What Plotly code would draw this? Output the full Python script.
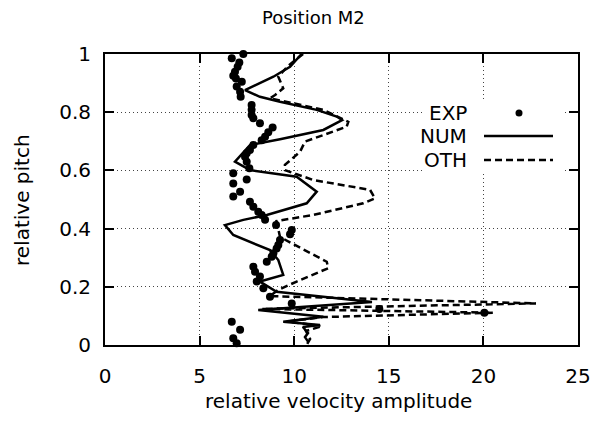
import plotly.graph_objects as go

# ---------------- data ----------------
EXP_X = [7.31, 6.70, 7.10, 7.01, 6.87, 6.78, 6.92, 7.23, 6.96, 7.14, 7.17, 7.75, 7.75, 7.75, 7.84,
         8.19, 8.86, 8.63, 8.46, 8.28, 7.84, 7.66, 7.49, 7.40, 7.49, 7.63, 6.78, 7.49, 6.78, 7.14,
         6.78, 7.66, 7.84, 8.10, 8.28, 8.46, 9.04, 9.87, 9.78, 9.25, 9.16, 9.07, 8.90, 8.81, 8.55,
         7.84, 7.93, 8.19, 8.02, 8.37, 8.72, 9.87, 14.50, 20.05, 6.70, 7.14, 6.78, 6.96]
EXP_Y = [1.00, 0.985, 0.971, 0.956, 0.939, 0.925, 0.916, 0.905, 0.888, 0.870, 0.853, 0.825, 0.808, 0.790, 0.779,
         0.762, 0.747, 0.731, 0.716, 0.704, 0.687, 0.670, 0.659, 0.647, 0.630, 0.607, 0.590, 0.569, 0.555, 0.527,
         0.510, 0.492, 0.475, 0.458, 0.447, 0.430, 0.412, 0.395, 0.381, 0.361, 0.344, 0.332, 0.315, 0.303, 0.286,
         0.269, 0.252, 0.235, 0.218, 0.195, 0.166, 0.143, 0.124, 0.111, 0.080, 0.052, 0.023, 0.006]

NUM_X = [10.39, 9.78, 8.90, 7.40, 8.19, 9.25, 11.19, 12.25, 12.53, 11.54, 9.25, 8.19, 7.66, 6.87, 7.66,
         10.13, 11.19, 10.66, 8.55, 7.31, 6.34, 6.78, 8.72, 9.16, 9.42, 8.19, 9.07, 14.11, 8.10, 11.54,
         9.42, 11.36, 10.46, 10.73, 10.57, 10.75]
NUM_Y = [1.0, 0.956, 0.922, 0.876, 0.853, 0.836, 0.808, 0.785, 0.773, 0.739, 0.707, 0.694, 0.687, 0.630, 0.601,
         0.578, 0.527, 0.487, 0.447, 0.430, 0.412, 0.378, 0.326, 0.292, 0.241, 0.218, 0.183, 0.148, 0.120, 0.097,
         0.080, 0.069, 0.062, 0.041, 0.027, 0.010]

OTH_X = [10.47, 9.67, 9.16, 9.42, 8.99, 8.72, 11.54, 12.86, 12.77, 11.54, 10.57, 10.31, 9.51, 9.51, 11.01,
         14.01, 14.27, 13.65, 11.01, 9.07, 9.25, 11.72, 11.80, 10.13, 9.14, 8.72, 22.78, 8.30, 20.51, 11.52,
         9.67, 11.47, 10.62, 10.84, 10.68]
OTH_Y = [1.0, 0.959, 0.922, 0.882, 0.859, 0.848, 0.808, 0.767, 0.750, 0.722, 0.699, 0.664, 0.619, 0.601, 0.567,
         0.533, 0.504, 0.487, 0.447, 0.426, 0.371, 0.286, 0.264, 0.218, 0.189, 0.168, 0.143, 0.124, 0.111, 0.096,
         0.081, 0.065, 0.048, 0.021, 0.003]

X_TICKS = [0, 5, 10, 15, 20, 25]
Y_TICKS = [0, 0.2, 0.4, 0.6, 0.8, 1]
Y_TICK_TEXT = ["0", "0.2", "0.4", "0.6", "0.8", "1"]
LEGEND_NAMES = ["EXP", "NUM", "OTH"]
TITLE = "Position M2"
XLABEL = "relative velocity amplitude"
YLABEL = "relative pitch"

FONT = "DejaVu Sans"

fig = go.Figure()
fig.add_trace(go.Scatter(x=EXP_X, y=EXP_Y, mode="markers", name="EXP",
                         marker=dict(color="black", size=8), showlegend=False, cliponaxis=False))
fig.add_trace(go.Scatter(x=NUM_X, y=NUM_Y, mode="lines", name="NUM",
                         line=dict(color="black", width=2.5), showlegend=False))
fig.add_trace(go.Scatter(x=OTH_X, y=OTH_Y, mode="lines", name="OTH",
                         line=dict(color="black", width=2.5, dash="7px,4px"), showlegend=False))

axis_common = dict(showline=True, linecolor="black", linewidth=2, mirror="ticks",
                   ticks="inside", ticklen=9, tickwidth=1.5, tickcolor="black",
                   showgrid=True, gridcolor="#444", gridwidth=1, griddash="1px,3px",
                   zeroline=False, automargin=False,
                   tickfont=dict(family=FONT, size=20, color="black"))

fig.update_xaxes(range=[0, 25], tickvals=X_TICKS, ticklabelstandoff=12, **axis_common)
fig.update_yaxes(range=[0, 1], tickvals=Y_TICKS, ticktext=Y_TICK_TEXT, ticklabelstandoff=8, **axis_common)

# manual legend (paper coordinates; plot area is 473 x 291 px)
W, H = 473.0, 291.0
def px(x):
    return (x - 105) / W
def py(y):
    return (345 - y) / H

shapes = [
    dict(type="rect", xref="paper", yref="paper", x0=px(423), x1=px(563), y0=py(172), y1=py(101),
         fillcolor="white", line=dict(width=0), layer="above"),
    dict(type="circle", xref="paper", yref="paper", x0=px(515.5), x1=px(522.5), y0=py(116.5), y1=py(109.5),
         fillcolor="black", line=dict(width=0), layer="above"),
    dict(type="line", xref="paper", yref="paper", x0=px(484), x1=px(553), y0=py(136), y1=py(136),
         line=dict(color="black", width=2.5), layer="above"),
    dict(type="line", xref="paper", yref="paper", x0=px(484), x1=px(553), y0=py(160), y1=py(160),
         line=dict(color="black", width=2.5, dash="7px,4px"), layer="above"),
]

annotations = []
for name, yy in zip(LEGEND_NAMES, [113, 136, 160]):
    annotations.append(dict(text=name, xref="paper", yref="paper", x=px(469), y=py(yy),
                            xanchor="right", yanchor="middle", showarrow=False,
                            font=dict(family=FONT, size=20, color="black")))
annotations.append(dict(text=TITLE, xref="paper", yref="paper", x=px(313), y=1, yshift=37,
                        xanchor="center", yanchor="middle", showarrow=False,
                        font=dict(family=FONT, size=18, color="black")))
annotations.append(dict(text=XLABEL, xref="paper", yref="paper", x=px(338), y=0, yshift=-56,
                        xanchor="center", yanchor="middle", showarrow=False,
                        font=dict(family=FONT, size=20, color="black")))
annotations.append(dict(text=YLABEL, xref="paper", yref="paper", x=0, xshift=-83, y=py(200),
                        xanchor="center", yanchor="middle", textangle=-90, showarrow=False,
                        font=dict(family=FONT, size=20, color="black")))

fig.update_layout(width=595, height=424, margin=dict(l=105, r=17, t=54, b=79),
                  paper_bgcolor="white", plot_bgcolor="white", showlegend=False,
                  shapes=shapes, annotations=annotations)

fig.write_html("out.html", config={"displayModeBar": False},
               post_script="document.body.style.margin='0px';")
